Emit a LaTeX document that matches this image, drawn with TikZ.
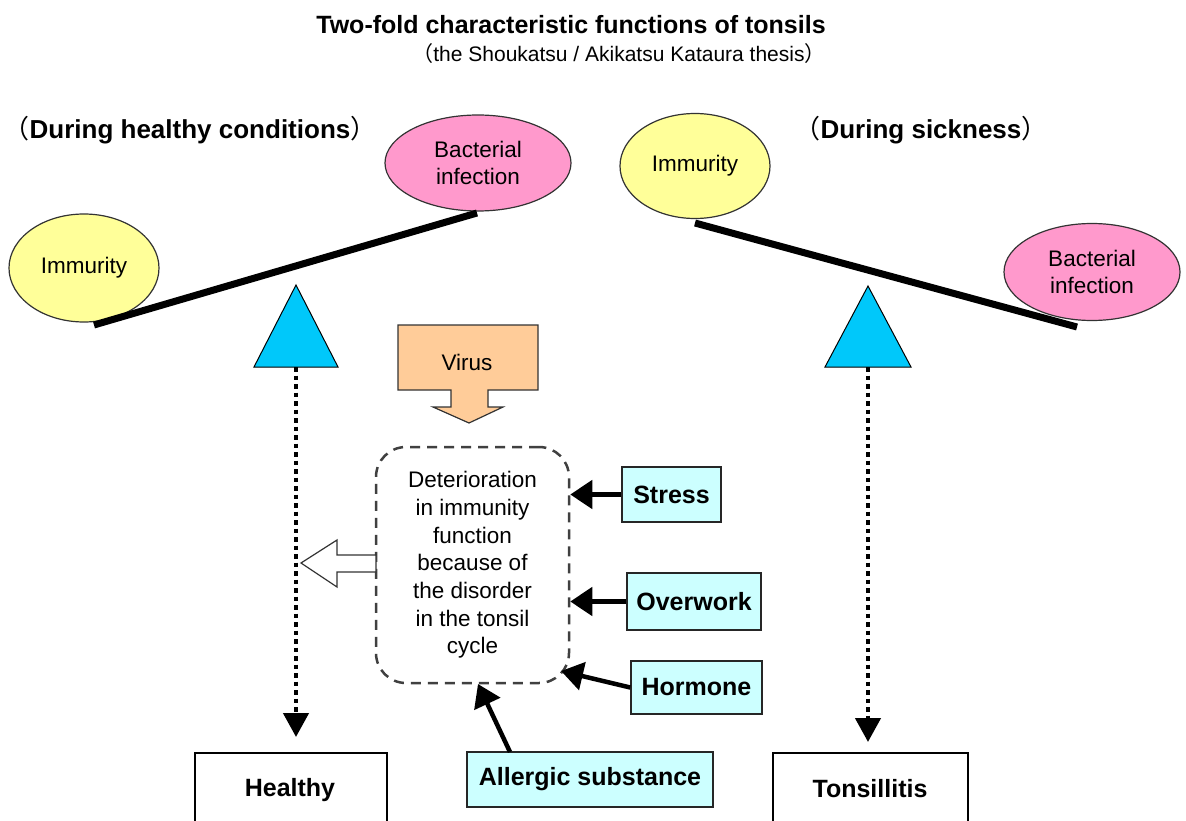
\documentclass[tikz,border=0pt]{standalone}
\usepackage{fontspec}
\setmainfont{Liberation Sans}
\newfontfamily\cjk{Noto Sans CJK SC}
\usetikzlibrary{shapes.geometric,arrows.meta}
\definecolor{ylw}{RGB}{255,255,153}
\definecolor{pnk}{RGB}{255,153,204}
\definecolor{cyn}{RGB}{0,200,250}
\definecolor{lcyn}{RGB}{204,255,255}
\definecolor{orng}{RGB}{255,204,153}
\begin{document}
\begin{tikzpicture}[x=1pt,y=-1pt,
  reg/.style={font=\fontsize{22.5}{27}\selectfont},
  bld/.style={font=\fontsize{25}{29}\selectfont\bfseries},
  ell/.style={ellipse, draw=black!80, line width=1.2pt, inner sep=0pt, align=center, reg},
  lab/.style={draw=black!85, line width=1.5pt, fill=lcyn, bld, inner sep=0pt},
  res/.style={draw=black, line width=1.5pt, inner sep=0pt},
  beam/.style={line width=7pt},
  fulcrum/.style={fill=cyn, draw=black, line width=1pt},
  dotarrow/.style={line width=4.5pt, dash pattern=on 4.5pt off 4pt, -{Triangle[width=25pt,length=24pt]}},
  blk/.style={line width=4.5pt, -{Triangle[width=28pt,length=22pt]}}
]
\clip (0,0) rectangle (1186,821);
\fill[white] (0,0) rectangle (1186,821);

% titles
\node[font=\fontsize{25}{30}\selectfont\bfseries] (title) at (571,25) {Two-fold characteristic functions of tonsils};
\node[font=\fontsize{21}{25}\selectfont] (sub) at (619,54) {{\cjk （}the Shoukatsu / Akikatsu Kataura thesis{\cjk ）}};
\node[font=\fontsize{26}{30}\selectfont\bfseries] (hl) at (190,130) {{\cjk\mdseries （}During healthy conditions{\cjk\mdseries ）}};
\node[font=\fontsize{26}{30}\selectfont\bfseries] (hs) at (921,130) {{\cjk\mdseries （}During sickness{\cjk\mdseries ）}};

% left balance
\node[ell, fill=ylw, minimum width=150, minimum height=108] (imL) at (84,268) {Immurity};
\node[ell, fill=pnk, minimum width=186, minimum height=96] (baL) at (478,163) {Bacterial\\infection};
\coordinate (bL1) at (94,325);
\coordinate (bL2) at (477,213);
\draw[beam] (bL1) -- (bL2);
\coordinate (tL) at (296,285);
\coordinate (tLb) at (296,367);
\draw[fulcrum] (tL) -- (338,367) -- (254,367) -- cycle;

% right balance
\node[ell, fill=ylw, minimum width=150, minimum height=105] (imR) at (695,166) {Immurity};
\node[ell, fill=pnk, minimum width=176, minimum height=97] (baR) at (1092,272) {Bacterial\\infection};
\coordinate (bR1) at (695,223);
\coordinate (bR2) at (1077,327);
\draw[beam] (bR1) -- (bR2);
\coordinate (tR) at (868,286);
\coordinate (tRb) at (868,367);
\draw[fulcrum] (tR) -- (911,367) -- (825,367) -- cycle;

% result boxes
\node[res, minimum width=192, minimum height=76, anchor=north west] (healthy) at (194,752) {};
\node[bld] (healthyt) at (290,790) {Healthy};
\node[res, minimum width=195, minimum height=76, anchor=north west] (tons) at (772,752) {};
\node[bld] (tonst) at (870,789) {Tonsillitis};

% dotted arrows
\draw[dotarrow, shorten >=15pt] (tLb) -- (tLb |- healthy.north);
\draw[dotarrow, shorten >=10pt] (tRb) -- (tRb |- tons.north);

% virus block arrow
\draw[fill=orng, draw=black!80, line width=1.2pt]
  (398,325) -- (538,325) -- (538,390) -- (488,390) -- (488,407) -- (503,407)
  -- (469,423) -- (433,407) -- (451,407) -- (451,390) -- (398,390) -- cycle;
\node[reg] (virus) at (467,362) {Virus};

% central dashed box
\node[draw=black!75, line width=2.5pt, dash pattern=on 10pt off 7pt, rounded corners=30pt,
      minimum width=193, minimum height=236, align=center,
      font=\fontsize{22.5}{27.7}\selectfont] (det) at (472.5,565)
  {Deterioration\\in immunity\\function\\because of\\the disorder\\in the tonsil\\cycle};

% hollow arrow
\draw[fill=white, draw=black!80, line width=1.2pt]
  (376,555) -- (337,555) -- (337,540) -- (301,563) -- (337,587) -- (337,572) -- (376,572) -- cycle;

% factor boxes
\node[lab, minimum width=99, minimum height=55] (stress) at (671.5,494.5) {Stress};
\node[lab, minimum width=134, minimum height=57] (over) at (694,601.5) {Overwork};
\node[lab, minimum width=131, minimum height=53] (horm) at (696.5,687.5) {Hormone};
\node[lab, minimum width=246, minimum height=55] (allg) at (590,779.5) {Allergic substance};

\coordinate (hT) at (561,671);
\coordinate (aT) at (478,684);
\coordinate (aS) at (510,752);
\draw[blk] (stress.west) -- (stress.west -| det.east);
\draw[blk] (over.west) -- (over.west -| det.east);
\draw[blk] (horm.west) -- (hT);
\draw[blk] (aS) -- (aT);
\end{tikzpicture}
\end{document}
